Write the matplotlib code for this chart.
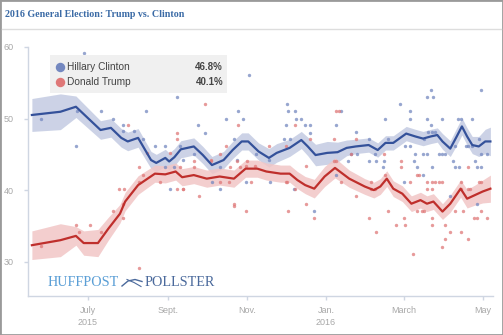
"""Recreate the HuffPost Pollster 2016 general election chart (Trump vs. Clinton)."""

import matplotlib
matplotlib.use('Agg')
import matplotlib.pyplot as plt
import matplotlib.dates as mdates
from matplotlib.patches import Rectangle
from matplotlib.lines import Line2D
import pandas as pd

# trend lines: date, estimate, half width of the band
clinton_trend_dates = [
    '2015-05-19', '2015-06-10', '2015-06-22', '2015-07-11', '2015-07-19', '2015-07-27',
    '2015-08-01', '2015-08-09', '2015-08-19', '2015-08-23', '2015-08-30', '2015-09-02',
    '2015-09-06', '2015-09-11', '2015-09-21', '2015-09-28', '2015-10-05', '2015-10-14',
    '2015-10-21', '2015-10-28', '2015-11-02', '2015-11-10', '2015-11-18', '2015-11-24',
    '2015-12-04', '2015-12-13', '2015-12-18', '2015-12-24', '2016-01-02', '2016-01-10',
    '2016-01-17', '2016-01-24', '2016-02-03', '2016-02-10', '2016-02-16', '2016-02-22',
    '2016-03-03', '2016-03-10', '2016-03-16', '2016-03-22', '2016-03-27', '2016-03-31',
    '2016-04-06', '2016-04-11', '2016-04-15', '2016-04-19', '2016-04-23', '2016-04-28',
    '2016-05-03', '2016-05-07',
]
clinton_trend = [
    50.5, 50.95, 51.65, 48.4, 48.7, 47.3,
    46.8, 47.3, 44.2, 43.8, 44.5, 44.0,
    44.6, 45.7, 46.1, 44.9, 43.5, 44.2,
    45.6, 46.8, 46.8, 45.4, 44.5, 45.2,
    45.9, 47.0, 46.1, 44.9, 45.2, 45.3,
    45.9, 46.1, 46.3, 45.6, 46.6, 46.6,
    47.9, 47.5, 47.2, 47.5, 47.7, 46.8,
    45.8, 47.5, 48.9, 47.5, 46.3, 46.1,
    46.8, 46.8,
]
clinton_band = [
    2.3, 2.5, 1.5, 1.3, 1.3, 1.3,
    1.3, 1.3, 1.2, 1.2, 1.2, 1.2,
    1.2, 1.2, 1.2, 1.2, 1.2, 1.2,
    1.2, 1.2, 1.2, 1.2, 1.3, 1.3,
    1.2, 1.2, 1.3, 1.5, 1.6, 1.4,
    1.1, 1.0, 1.0, 1.0, 1.0, 1.0,
    1.0, 1.0, 1.0, 1.0, 1.0, 1.1,
    1.1, 1.2, 1.2, 1.2, 1.2, 1.4,
    1.7, 2.0,
]

trump_trend_dates = [
    '2015-05-19', '2015-06-10', '2015-06-22', '2015-06-28', '2015-07-09', '2015-07-17',
    '2015-07-26', '2015-07-30', '2015-08-09', '2015-08-22', '2015-08-30', '2015-09-07',
    '2015-09-12', '2015-09-21', '2015-10-01', '2015-10-11', '2015-10-22', '2015-10-31',
    '2015-11-09', '2015-11-16', '2015-11-27', '2015-12-04', '2015-12-10', '2015-12-16',
    '2015-12-23', '2015-12-31', '2016-01-08', '2016-01-19', '2016-01-31', '2016-02-07',
    '2016-02-12', '2016-02-17', '2016-02-22', '2016-02-29', '2016-03-07', '2016-03-14',
    '2016-03-19', '2016-03-24', '2016-03-31', '2016-04-06', '2016-04-14', '2016-04-19',
    '2016-04-25', '2016-05-01', '2016-05-07',
]
trump_trend = [
    32.3, 33.0, 33.6, 32.6, 32.6, 34.6,
    36.7, 38.4, 40.7, 42.3, 42.2, 42.6,
    41.8, 42.1, 41.6, 41.9, 41.6, 43.0,
    43.0, 42.6, 42.3, 42.3, 41.4, 40.7,
    40.2, 41.9, 43.1, 41.6, 40.5, 40.0,
    40.5, 41.6, 40.2, 39.5, 38.1, 38.6,
    38.1, 38.4, 37.0, 38.1, 40.2, 38.8,
    39.3, 39.8, 40.2,
]
trump_band = [
    2.0, 2.3, 1.3, 1.7, 1.9, 1.6,
    1.3, 1.3, 1.3, 1.2, 1.2, 1.2,
    1.2, 1.2, 1.2, 1.2, 1.2, 1.2,
    1.2, 1.2, 1.2, 1.2, 1.2, 1.2,
    1.3, 1.4, 1.4, 1.2, 1.1, 1.1,
    1.1, 1.1, 1.1, 1.1, 1.1, 1.1,
    1.1, 1.1, 1.1, 1.2, 1.2, 1.3,
    1.4, 1.6, 1.9,
]

# individual polls
clinton_poll_dates = [
    '2015-06-28', '2015-07-25', '2015-07-28', '2015-09-08', '2015-06-23', '2015-05-26',
    '2015-07-11', '2015-08-15', '2015-07-21', '2015-07-28', '2015-07-28', '2015-08-06',
    '2015-08-13', '2015-06-22', '2015-08-22', '2015-08-30', '2015-09-10', '2015-08-30',
    '2015-09-06', '2015-09-03', '2015-11-03', '2015-12-02', '2015-12-03', '2015-12-08',
    '2015-10-25', '2015-10-16', '2015-10-29', '2015-12-09', '2015-12-13', '2015-09-24',
    '2015-12-01', '2015-12-16', '2015-12-20', '2016-01-09', '2015-09-30', '2015-12-20',
    '2015-10-22', '2015-11-30', '2015-12-04', '2015-09-21', '2015-11-08', '2015-09-13',
    '2015-10-24', '2015-11-18', '2015-10-11', '2015-10-05', '2015-10-11', '2015-10-31',
    '2015-11-19', '2015-12-07', '2015-12-23', '2016-01-09', '2016-03-22', '2016-03-19',
    '2016-03-24', '2016-04-30', '2016-02-27', '2016-03-06', '2016-01-13', '2016-02-16',
    '2016-03-06', '2016-03-19', '2016-03-31', '2016-04-12', '2016-04-14', '2016-04-23',
    '2016-03-22', '2016-01-24', '2016-03-20', '2016-03-23', '2016-03-25', '2016-02-03',
    '2016-02-18', '2016-03-17', '2016-04-28', '2016-03-02', '2016-03-06', '2016-04-10',
    '2016-04-18', '2016-04-20', '2016-04-23', '2016-01-20', '2016-01-25', '2016-02-08',
    '2016-03-10', '2016-03-16', '2016-03-19', '2016-03-28', '2016-03-31', '2016-04-02',
    '2016-04-30', '2016-05-04', '2016-01-18', '2016-02-03', '2016-02-09', '2016-02-15',
    '2016-03-09', '2016-04-08', '2016-04-25', '2016-02-14', '2016-03-11', '2016-03-23',
    '2016-04-10', '2016-04-13', '2016-04-27', '2016-04-30', '2016-03-16', '2016-03-01',
    '2016-04-06', '2016-04-27',
]
clinton_polls = [
    59.1, 56.1, 54.0, 53.0, 51.1, 50.0,
    51.1, 51.1, 50.0, 49.1, 48.2, 48.2,
    47.1, 46.1, 46.1, 46.1, 46.1, 43.2,
    43.2, 40.1, 56.1, 52.1, 51.1, 51.1,
    51.1, 50.0, 50.0, 50.0, 50.0, 49.1,
    49.1, 49.1, 49.1, 49.1, 48.0, 48.0,
    47.1, 47.1, 47.1, 45.1, 45.1, 44.2,
    44.2, 44.2, 43.2, 41.1, 40.1, 41.1,
    41.1, 40.1, 37.1, 42.1, 54.0, 53.0,
    53.0, 54.0, 52.1, 51.1, 51.1, 50.0,
    50.0, 50.0, 50.0, 50.0, 50.0, 50.0,
    49.1, 48.1, 48.1, 48.1, 48.1, 47.1,
    47.1, 47.1, 47.1, 46.1, 46.1, 46.1,
    46.1, 46.1, 46.1, 45.1, 45.1, 45.1,
    45.1, 45.1, 45.1, 45.1, 45.1, 45.1,
    45.1, 45.1, 44.1, 44.1, 44.1, 44.1,
    44.1, 44.1, 44.1, 43.2, 43.2, 43.2,
    43.2, 43.2, 43.2, 43.2, 42.1, 41.1,
    39.2, 38.1,
]

trump_poll_dates = [
    '2015-08-22', '2015-08-01', '2015-09-08', '2015-09-08', '2015-08-16', '2015-09-03',
    '2015-08-10', '2015-10-25', '2015-12-08', '2015-12-20', '2015-10-16', '2015-11-18',
    '2015-12-01', '2016-01-07', '2016-01-11', '2015-09-30', '2015-10-11', '2015-10-04',
    '2015-09-21', '2015-10-19', '2015-10-27', '2015-09-10', '2016-01-09', '2016-01-24',
    '2016-01-20', '2016-02-15', '2016-02-28', '2016-02-28', '2016-04-20', '2016-03-13',
    '2016-01-09', '2016-01-13', '2016-01-24', '2016-02-05', '2016-02-05', '2016-02-08',
    '2016-02-16', '2016-03-06', '2016-03-11', '2016-03-19', '2016-03-23', '2016-03-25',
    '2016-03-28', '2016-03-31', '2016-03-19', '2016-03-23', '2016-04-14', '2016-04-14',
    '2016-04-20', '2016-04-21', '2016-04-28', '2016-04-30', '2016-03-11', '2016-03-15',
    '2016-03-17', '2016-02-18', '2016-04-10', '2016-04-16', '2016-04-30', '2016-02-03',
    '2016-03-01', '2016-03-23', '2016-04-24', '2016-04-27', '2016-05-04', '2016-02-24',
    '2016-03-02', '2016-03-23', '2016-04-02', '2016-02-09', '2016-04-06', '2016-04-14',
    '2016-04-02', '2016-04-20', '2016-03-31', '2016-03-08', '2015-09-13', '2015-09-25',
    '2015-10-11', '2015-10-18', '2015-10-22', '2015-10-31', '2015-11-04', '2015-12-01',
    '2015-12-02', '2015-12-03', '2015-12-08', '2015-12-17', '2015-12-23', '2015-09-21',
    '2015-10-04', '2015-10-24', '2015-11-01', '2015-10-31', '2015-11-07', '2015-12-17',
    '2016-01-07', '2015-05-26', '2015-06-22', '2015-07-03', '2015-06-24', '2015-07-11',
    '2015-07-21', '2015-07-25', '2015-07-29', '2015-07-28', '2015-07-28', '2015-08-10',
    '2015-08-10', '2015-08-13', '2015-08-26', '2015-09-08', '2015-09-13', '2015-10-22',
]
trump_polls = [
    54.1, 49.1, 48.0, 47.2, 45.2, 45.2,
    43.2, 49.1, 49.1, 47.1, 46.1, 46.1,
    46.1, 47.1, 51.1, 52.1, 45.1, 44.2,
    43.2, 43.2, 43.2, 43.2, 51.1, 47.1,
    45.1, 45.1, 44.1, 43.2, 43.2, 42.1,
    44.0, 41.2, 39.2, 41.2, 40.1, 40.1,
    42.1, 41.1, 42.1, 41.1, 41.1, 41.1,
    41.1, 41.1, 40.1, 40.1, 41.1, 40.1,
    40.1, 40.1, 41.1, 41.1, 37.1, 37.1,
    37.1, 37.1, 37.1, 37.1, 37.1, 36.1,
    36.1, 36.1, 36.1, 36.1, 36.1, 35.1,
    35.1, 35.1, 35.1, 34.2, 34.2, 34.2,
    33.1, 33.1, 32.1, 31.1, 40.1, 39.2,
    41.1, 41.1, 38.1, 37.1, 41.1, 41.1,
    41.1, 37.1, 40.1, 38.1, 36.1, 44.0,
    44.0, 44.0, 44.0, 43.3, 43.3, 43.3,
    44.0, 32.2, 35.1, 35.1, 34.2, 34.2,
    37.1, 40.1, 40.1, 38.1, 36.1, 29.1,
    41.2, 42.1, 41.1, 40.1, 40.1, 37.8,
]

candidates = ['Hillary Clinton', 'Donald Trump']
latest_values = ['46.8%', '40.1%']

tick_dates = ['2015-07-01', '2015-09-01', '2015-11-01', '2016-01-01', '2016-03-01', '2016-05-01']
tick_labels = ['July\n2015', 'Sept.', 'Nov.', 'Jan.\n2016', 'March', 'May']

CLINTON_LINE = '#34519a'
CLINTON_FILL = '#c3cbe2'
CLINTON_DOT = '#7488c0'
TRUMP_LINE = '#bf2f2c'
TRUMP_FILL = '#f1c6c6'
TRUMP_DOT = '#df7878'
AXIS_COLOR = '#cfd6e2'
TICK_TEXT = '#a8a8a8'


def plot_series(ax, trend_dates, trend, band, poll_dates, polls, line_c, fill_c, dot_c):
    """Draw the band, the individual polls and the trend line for one candidate."""
    t = pd.to_datetime(trend_dates)
    lo = [v - b for v, b in zip(trend, band)]
    hi = [v + b for v, b in zip(trend, band)]
    ax.fill_between(t, lo, hi, color=fill_c, alpha=0.85, linewidth=0, zorder=1)
    ax.scatter(pd.to_datetime(poll_dates), polls, s=6, color=dot_c, alpha=0.75,
               linewidths=0, zorder=2)
    ax.plot(t, trend, color=line_c, linewidth=1.6, zorder=3, solid_joinstyle='round')


def main():
    fig = plt.figure(figsize=(5.03, 3.35), dpi=100)
    W, H = 503.0, 335.0

    def fx(px):
        return px / W

    def fy(py):
        return 1 - py / H

    # outer frame and title bar
    fig.patches.append(Rectangle((0, 0), 1, 1, transform=fig.transFigure, fill=False,
                                 edgecolor='#9a9a9a', linewidth=2.0))
    fig.lines.append(Line2D([fx(2), fx(501)], [fy(29), fy(29)], transform=fig.transFigure,
                            color='#dddddd', linewidth=1.0))
    fig.text(fx(5), fy(14.5), '2016 General Election: Trump vs. Clinton', ha='left', va='center',
             family='Liberation Serif', weight='bold', fontsize=7.2, color='#3b6ba6')

    ax = fig.add_axes([fx(28), fy(296), fx(493) - fx(28), (296 - 47) / H])
    plot_series(ax, clinton_trend_dates, clinton_trend, clinton_band,
                clinton_poll_dates, clinton_polls, CLINTON_LINE, CLINTON_FILL, CLINTON_DOT)
    plot_series(ax, trump_trend_dates, trump_trend, trump_band,
                trump_poll_dates, trump_polls, TRUMP_LINE, TRUMP_FILL, TRUMP_DOT)

    ax.set_xlim(pd.Timestamp('2015-05-16'), pd.Timestamp('2016-05-09'))
    ax.set_ylim(25.2, 60)
    ax.set_yticks([30, 40, 50, 60])
    ax.set_xticks(pd.to_datetime(tick_dates))
    ax.set_xticklabels(tick_labels, linespacing=1.45)
    for side in ['top', 'right']:
        ax.spines[side].set_visible(False)
    for side in ['left', 'bottom']:
        ax.spines[side].set_color(AXIS_COLOR)
        ax.spines[side].set_linewidth(1.0)
    ax.tick_params(axis='both', colors=AXIS_COLOR, labelcolor=TICK_TEXT, labelsize=6.5,
                   length=3, width=1)
    ax.tick_params(axis='y', pad=7)
    ax.tick_params(axis='x', pad=4)
    for lbl in ax.get_xticklabels() + ax.get_yticklabels():
        lbl.set_family('Liberation Sans')
    ax.patch.set_alpha(0)

    # legend box
    fig.patches.append(Rectangle((fx(50), fy(93)), fx(227) - fx(50), (93 - 55) / H,
                                 transform=fig.transFigure, facecolor='#f0f0f0',
                                 edgecolor='none', zorder=5))
    for i, (name, val, col) in enumerate(zip(candidates, latest_values, [CLINTON_DOT, TRUMP_DOT])):
        y = fy(66.5 + 16 * i)
        fig.lines.append(Line2D([fx(60)], [y], transform=fig.transFigure, marker='o',
                                markersize=6.8, color=col, markeredgewidth=0, zorder=6))
        fig.text(fx(67), y, name, ha='left', va='center', fontsize=7.3, color='#444444',
                 family='Liberation Sans', zorder=6)
        fig.text(fx(223), y, val, ha='right', va='center', fontsize=7, color='#444444',
                 family='Liberation Sans', weight='bold', zorder=6)

    # watermark
    fig.text(fx(48), fy(283), 'HUFFPOST', ha='left', va='center', fontsize=10.2,
             family='Liberation Serif', color='#5b9fd6')
    fig.text(fx(145), fy(283), 'POLLSTER', ha='left', va='center', fontsize=10.2,
             family='Liberation Serif', color='#4b6a9c')
    fig.lines.append(Line2D([fx(122), fx(128), fx(135), fx(142)],
                            [fy(286), fy(281), fy(279.5), fy(281.5)],
                            transform=fig.transFigure, color='#4b6a9c', linewidth=1.0))
    fig.lines.append(Line2D([fx(127), fx(134), fx(141)],
                            [fy(279.5), fy(282.5), fy(286.5)],
                            transform=fig.transFigure, color='#4b6a9c', linewidth=0.8))

    fig.savefig('out.png', dpi=100)


if __name__ == '__main__':
    main()
